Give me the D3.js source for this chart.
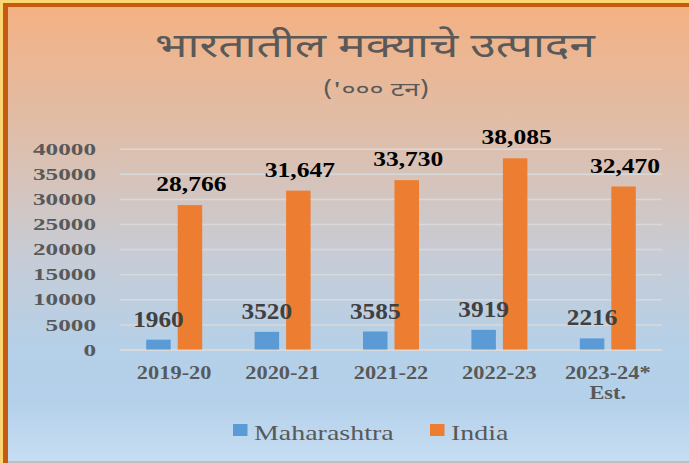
<!DOCTYPE html>
<html>
<head>
<meta charset="utf-8">
<script src="https://cdn.jsdelivr.net/npm/d3@7"></script>
<style>
  html, body { margin: 0; padding: 0; background: #fff; }
  svg { display: block; }
</style>
</head>
<body>
<svg id="chart" width="689" height="463"></svg>
<script>
// ---- data ----
const categories = ["2019-20", "2020-21", "2021-22", "2022-23", "2023-24*\nEst."];
const seriesNames = ["Maharashtra", "India"];
const maharashtra = [1960, 3520, 3585, 3919, 2216];
const india = [28766, 31647, 33730, 38085, 32470];
const indiaLabels = ["28,766", "31,647", "33,730", "38,085", "32,470"];
const yTicks = [0, 5000, 10000, 15000, 20000, 25000, 30000, 35000, 40000];
const titleText = "भारतातील मक्याचे उत्पादन";
const subtitleText = "('००० टन)";

const colors = { Maharashtra: "#5B9BD5", India: "#ED7D31" };

const svg = d3.select("#chart");
const W = 689, H = 463;

// ---- background & border ----
const defs = svg.append("defs");
const grad = defs.append("linearGradient").attr("id", "bg")
  .attr("x1", 0).attr("y1", 0).attr("x2", 0).attr("y2", 1);
[[0, "#F4B183"], [0.3, "#DDBFAD"], [0.55, "#C7CCD6"], [0.75, "#B5D0E8"], [0.87, "#B4D1EB"], [1, "#C6DDF1"]]
  .forEach(([o, c]) => grad.append("stop").attr("offset", o).attr("stop-color", c));

svg.append("rect").attr("x", 0).attr("y", 0).attr("width", W).attr("height", H).attr("fill", "#FCD672");
svg.append("rect").attr("x", 3).attr("y", 3).attr("width", W - 3).attr("height", H - 3).attr("fill", "#C55A11");
svg.append("rect").attr("x", 8).attr("y", 7).attr("width", W - 8).attr("height", 454).attr("fill", "url(#bg)");
svg.append("rect").attr("x", 8).attr("y", 461).attr("width", W - 8).attr("height", 2).attr("fill", "#BFBFBF");

// helper: horizontally stretch text glyphs
function stretch(sel, k) {
  sel.each(function () {
    const len = this.getComputedTextLength();
    d3.select(this).attr("textLength", len * k).attr("lengthAdjust", "spacingAndGlyphs");
  });
}

// ---- scales ----
const plotL = 120, plotR = 662, y0 = 349.5, yTop = 148.7;
const x = d3.scaleBand().domain(categories).range([plotL, plotR]).paddingInner(0).paddingOuter(0);
const x1 = d3.scaleBand().domain(seriesNames)
  .range([x.bandwidth() / 2 - 28, x.bandwidth() / 2 + 28]).paddingInner(0.222).paddingOuter(0);
const y = d3.scaleLinear().domain([0, 40000]).range([y0, yTop]);

// ---- title ----
svg.append("text").attr("x", 375).attr("y", 57)
  .attr("text-anchor", "middle")
  .attr("font-family", "'Noto Sans Devanagari', 'Lohit Devanagari', 'Noto Sans', sans-serif")
  .attr("font-size", 34).attr("fill", "#595959")
  .attr("textLength", 440).attr("lengthAdjust", "spacingAndGlyphs")
  .text(titleText);
svg.append("text").attr("x", 376).attr("y", 96)
  .attr("text-anchor", "middle")
  .attr("font-family", "'Noto Sans Devanagari', 'Lohit Devanagari', 'Noto Sans', sans-serif")
  .attr("font-size", 19).attr("fill", "#595959")
  .attr("textLength", 106).attr("lengthAdjust", "spacingAndGlyphs")
  .text(subtitleText);

// ---- gridlines ----
const grid = svg.append("g").attr("transform", `translate(${plotL},0)`)
  .call(d3.axisLeft(y).tickValues(yTicks).tickSize(-(plotR - plotL)).tickFormat(""));
grid.select(".domain").remove();
grid.selectAll(".tick line").attr("stroke", "#D9D9D9").attr("stroke-width", 1.5);
grid.selectAll(".tick").filter(d => d === 0).select("line").attr("stroke-width", 2);

// ---- y axis labels ----
const yAxis = svg.append("g").attr("transform", `translate(${plotL},0)`)
  .call(d3.axisLeft(y).tickValues(yTicks).tickSize(0).tickPadding(24).tickFormat(d3.format("d")));
yAxis.select(".domain").remove();
yAxis.selectAll("text")
  .attr("font-family", "'Liberation Serif', 'Times New Roman', serif")
  .attr("font-weight", "bold").attr("font-size", 17.5).attr("fill", "#595959")
  .call(stretch, 1.44);

// ---- bars ----
const groups = svg.append("g").selectAll("g").data(categories).join("g")
  .attr("transform", d => `translate(${x(d)},0)`);
const barData = (c, i) => [
  { s: "Maharashtra", v: maharashtra[i], lab: String(maharashtra[i]) },
  { s: "India", v: india[i], lab: indiaLabels[i] }
];
groups.selectAll("rect").data(barData).join("rect")
  .attr("x", d => x1(d.s)).attr("width", x1.bandwidth())
  .attr("y", d => y(d.v)).attr("height", d => y(0) - y(d.v))
  .attr("fill", d => colors[d.s]);

// ---- data labels ----
groups.selectAll("text.lab").data(barData).join("text").attr("class", "lab")
  .attr("x", d => x1(d.s) + x1.bandwidth() / 2 + (d.s === "India" ? 1.5 : 0))
  .attr("y", d => y(d.v) - (d.s === "India" ? 14 : 13))
  .attr("text-anchor", "middle")
  .attr("font-family", "'Liberation Serif', 'Times New Roman', serif")
  .attr("font-weight", "bold")
  .attr("font-size", d => d.s === "India" ? 22 : 23)
  .attr("fill", d => d.s === "India" ? "#000000" : "#404040")
  .text(d => d.lab)
  .each(function (d) {
    d3.select(this).call(stretch, d.s === "India" ? 1.16 : 1.1);
  });

// ---- x axis labels ----
const xLab = svg.append("g").selectAll("text").data(categories).join("text")
  .attr("x", d => x(d) + x.bandwidth() / 2)
  .attr("y", 379)
  .attr("text-anchor", "middle")
  .attr("font-family", "'Liberation Serif', 'Times New Roman', serif")
  .attr("font-weight", "bold").attr("font-size", 18.5).attr("fill", "#595959");
xLab.each(function (d) {
  const lines = d.split("\n");
  const t = d3.select(this);
  lines.forEach((ln, i) => {
    t.append("tspan").attr("x", x(d) + x.bandwidth() / 2).attr("dy", i === 0 ? 0 : 20.3).text(ln)
      .each(function () {
        const len = this.getComputedTextLength();
        d3.select(this).attr("textLength", len * 1.21).attr("lengthAdjust", "spacingAndGlyphs");
      });
  });
});

// ---- legend ----
const legendItems = [
  { s: "Maharashtra", x: 233 },
  { s: "India", x: 430 }
];
const lg = svg.append("g").selectAll("g").data(legendItems).join("g")
  .attr("transform", d => `translate(${d.x},0)`);
lg.append("rect").attr("x", 0).attr("y", 424).attr("width", 14.5).attr("height", 12)
  .attr("fill", d => colors[d.s]);
lg.append("text").attr("x", 21).attr("y", 439.5)
  .attr("font-family", "'Liberation Serif', 'Times New Roman', serif")
  .attr("font-size", 22).attr("fill", "#595959")
  .text(d => d.s)
  .call(stretch, 1.27);
</script>
</body>
</html>
